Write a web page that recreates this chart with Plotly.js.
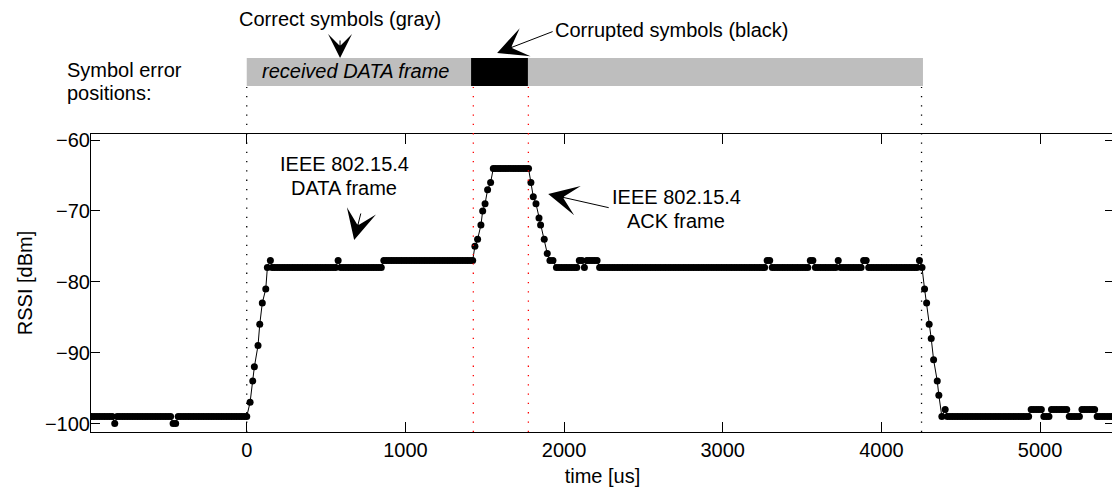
<!DOCTYPE html>
<html>
<head>
<meta charset="utf-8">
<script src="https://cdn.plot.ly/plotly-3.0.1.min.js"></script>
<style>
html,body{margin:0;padding:0;overflow:hidden;background:#fff;}
#chart{width:1114px;height:487px;}
</style>
</head>
<body>
<div id="chart"></div>
<script>
// ---------------- DATA (time in us, RSSI in dBm) ----------------
// idle channel before the DATA frame
const tNoise = [-976,-960,-944,-928,-912,-896,-880,-864,-848,-832,
  -816,-800,-784,-768,-752,-736,-720,-704,-688,-672,
  -656,-640,-624,-608,-592,-576,-560,-544,-528,-512,
  -496,-480,-464,-448,-432,-416,-400,-384,-368,-352,
  -336,-320,-304,-288,-272,-256,-240,-224,-208,-192,
  -176,-160,-144,-128,-112,-96,-80,-64,-48,-32,
  -16];
const rssiNoise = [-99,-99,-99,-99,-99,-99,-99,-99,-99,-100,
  -99,-99,-99,-99,-99,-99,-99,-99,-99,-99,
  -99,-99,-99,-99,-99,-99,-99,-99,-99,-99,
  -99,-99,-100,-100,-99,-99,-99,-99,-99,-99,
  -99,-99,-99,-99,-99,-99,-99,-99,-99,-99,
  -99,-99,-99,-99,-99,-99,-99,-99,-99,-99,
  -99];
// DATA frame rising edge
const tDataRise = [0,21,38,48,71,82,98,120,130,149];
const rssiDataRise = [-99,-97,-94,-92,-89,-86,-83,-81,-78,-77];
// DATA frame body
const tData = [160,176,192,208,224,240,256,272,288,304,
  320,336,352,368,384,400,416,432,448,464,
  480,496,512,528,544,560,
  576,
  592,608,624,640,656,672,688,704,720,736,
  752,768,784,800,816,832,848,
  864,880,896,912,928,944,960,976,992,1008,
  1024,1040,1056,1072,1088,1104,1120,1136,1152,1168,
  1184,1200,1216,1232,1248,1264,1280,1296,1312,1328,
  1344,1360,1376,1392,1408,1424];
const rssiData = [-78,-78,-78,-78,-78,-78,-78,-78,-78,-78,
  -78,-78,-78,-78,-78,-78,-78,-78,-78,-78,
  -78,-78,-78,-78,-78,-78,
  -77,
  -78,-78,-78,-78,-78,-78,-78,-78,-78,-78,
  -78,-78,-78,-78,-78,-78,-78,
  -77,-77,-77,-77,-77,-77,-77,-77,-77,-77,
  -77,-77,-77,-77,-77,-77,-77,-77,-77,-77,
  -77,-77,-77,-77,-77,-77,-77,-77,-77,-77,
  -77,-77,-77,-77,-77,-77];
// overlapping ACK frame
const tAck = [1438,1455,1476,1487,1502,1518,1537,1554,
  1568,1584,1600,1616,1632,1648,1664,1680,1696,1712,1728,1744,1760,1776,
  1791,1806,1823,1842,1852,1875,1894,1911,1930];
const rssiAck = [-75,-74,-72,-70,-69,-67,-66,-64,
  -64,-64,-64,-64,-64,-64,-64,-64,-64,-64,-64,-64,-64,-64,
  -66,-68,-69,-71,-72,-74,-76,-77,-77];
// rest of DATA frame
const tRest = [1952,1968,1984,2000,2016,2032,2048,2064,2080,
  2096,2112,2128,2144,2160,2176,2192,2208,
  2224,2240,2256,2272,2288,2304,2320,2336,2352,2368,
  2384,2400,2416,2432,2448,2464,2480,2496,2512,2528,
  2544,2560,2576,2592,2608,2624,2640,2656,2672,2688,
  2704,2720,2736,2752,2768,2784,2800,2816,2832,2848,
  2864,2880,2896,2912,2928,2944,2960,2976,2992,3008,
  3024,3040,3056,3072,3088,3104,3120,3136,3152,3168,
  3184,3200,3216,3232,3248,3264,
  3280,3296,
  3312,3328,3344,3360,3376,3392,3408,3424,3440,3456,3472,3488,3504,3520,3536,
  3552,3568,
  3584,3600,3616,3632,3648,3664,3680,3696,3712,
  3728,
  3744,3760,3776,3792,3808,3824,3840,3856,3872,
  3888,3904,
  3920,3936,3952,3968,3984,4000,4016,4032,4048,4064,
  4080,4096,4112,4128,4144,4160,4176,4192,4208,4224,
  4240];
const rssiRest = [-78,-78,-78,-78,-78,-78,-78,-78,-78,
  -77,-77,-78,-77,-77,-77,-77,-77,
  -78,-78,-78,-78,-78,-78,-78,-78,-78,-78,
  -78,-78,-78,-78,-78,-78,-78,-78,-78,-78,
  -78,-78,-78,-78,-78,-78,-78,-78,-78,-78,
  -78,-78,-78,-78,-78,-78,-78,-78,-78,-78,
  -78,-78,-78,-78,-78,-78,-78,-78,-78,-78,
  -78,-78,-78,-78,-78,-78,-78,-78,-78,-78,
  -78,-78,-78,-78,-78,-78,
  -77,-77,
  -78,-78,-78,-78,-78,-78,-78,-78,-78,-78,-78,-78,-78,-78,-78,
  -77,-77,
  -78,-78,-78,-78,-78,-78,-78,-78,-78,
  -77,
  -78,-78,-78,-78,-78,-78,-78,-78,-78,
  -77,-77,
  -78,-78,-78,-78,-78,-78,-78,-78,-78,-78,
  -78,-78,-78,-78,-78,-78,-78,-78,-78,-78,
  -77];
// falling edge
const tFall = [4256,4272,4285,4301,4314,4329,4352,4362,4381,4402];
const rssiFall = [-78,-81,-83,-86,-88,-91,-94,-96,-99,-98];
// idle channel afterwards
const tTail = [4416,4432,4448,4464,4480,4496,4512,4528,4544,4560,
  4576,4592,4608,4624,4640,4656,4672,4688,4704,4720,
  4736,4752,4768,4784,4800,4816,4832,4848,4864,4880,
  4896,4912,4928,
  4944,4960,4976,4992,5008,
  5024,5040,5056,
  5072,5088,5104,5120,5136,5152,5168,
  5184,5200,5216,5232,5248,
  5264,5280,5296,5312,5328,5344,
  5360,5376,5392,5408,5424,5440,5456];
const rssiTail = [-99,-99,-99,-99,-99,-99,-99,-99,-99,-99,
  -99,-99,-99,-99,-99,-99,-99,-99,-99,-99,
  -99,-99,-99,-99,-99,-99,-99,-99,-99,-99,
  -99,-99,-99,
  -98,-98,-98,-98,-98,
  -99,-99,-99,
  -98,-98,-98,-98,-98,-98,-98,
  -99,-99,-99,-99,-99,
  -98,-98,-98,-98,-98,-98,
  -99,-99,-99,-99,-99,-99,-99];

const xTicks = [0,1000,2000,3000,4000,5000];
const yTicks = [-100,-90,-80,-70,-60];

const timeUs = [].concat(tNoise,tDataRise,tData,tAck,tRest,tFall,tTail);
const rssiDbm = [].concat(rssiNoise,rssiDataRise,rssiData,rssiAck,rssiRest,rssiFall,rssiTail);

// ---------------- LAYOUT ----------------
const W = 1114, H = 487, ML = 91, MT = 134, MB = 55, MR = 0;
const plotBottom = H - MB, plotH = H - MT - MB;
const py = p => (plotBottom - p) / plotH;   // pixel y -> paper y
const FONT = 'Liberation Sans, Arial, Helvetica, sans-serif';
const fs = 20;

const trace = {
  x: timeUs, y: rssiDbm, type: 'scatter', mode: 'lines+markers',
  line: {color: '#000', width: 1},
  marker: {color: '#000', size: 7},
  hoverinfo: 'skip', showlegend: false
};

const dotted = (x, color) => ({
  type: 'line', xref: 'x', yref: 'paper', x0: x, x1: x, y0: 0, y1: py(87),
  line: {color: color, width: 1.3, dash: '1.3px,8px'}, layer: 'above'
});

const shapes = [
  {type: 'rect', xref: 'x', yref: 'paper', x0: 0, x1: 4262, y0: py(86), y1: py(58),
   fillcolor: '#bebebe', line: {width: 0}},
  {type: 'rect', xref: 'x', yref: 'paper', x0: 1414, x1: 1772, y0: py(86), y1: py(58),
   fillcolor: '#000', line: {width: 0}},
  dotted(0, '#000'), dotted(4253, '#000'),
  dotted(1428, '#ff0000'), dotted(1775, '#ff0000')
];

const txt = (text, x, y, xanchor, xref) => ({
  text: text, x: x, y: py(y), xref: xref || 'x', yref: 'paper',
  xanchor: xanchor || 'center', yanchor: 'middle', showarrow: false,
  font: {family: FONT, size: fs, color: '#000'}
});
const arrow = (x, y, ax, ay, size) => ({
  text: '', x: x, y: py(y), xref: 'x', yref: 'paper', showarrow: true,
  ax: ax, ay: ay, arrowhead: 3, arrowsize: size, arrowwidth: 1, arrowcolor: '#000', standoff: 0
});

const annotations = [
  txt('Symbol error', (65 - ML) / (W - ML - MR), 70, 'left', 'paper'),
  txt('positions:', (65 - ML) / (W - ML - MR), 93, 'left', 'paper'),
  txt('<i>received DATA frame</i>', 84, 71, 'left'),
  txt('Correct symbols (gray)', 588, 19),
  arrow(588, 58, 0, -19, 4),
  txt('Corrupted symbols (black)', 1931, 30, 'left'),
  arrow(1578, 53, 57, -22, 5),
  txt('IEEE 802.15.4', 613, 164),
  txt('DATA frame', 613, 188),
  arrow(677, 240, 7, -28, 5),
  txt('IEEE 802.15.4', 2706, 197),
  txt('ACK frame', 2706, 221),
  arrow(1900, 194, 62, 14, 5)
];

const layout = {
  width: W, height: H,
  margin: {l: ML, r: MR, t: MT, b: MB, pad: 0},
  paper_bgcolor: '#fff', plot_bgcolor: '#fff',
  font: {family: FONT, size: fs, color: '#000'},
  showlegend: false,
  xaxis: {
    range: [-981.6, 5466], tickvals: xTicks, ticks: 'inside', ticklen: 10, tickwidth: 1,
    tickcolor: '#000', showline: true, linecolor: '#000', linewidth: 1, mirror: 'ticks',
    showgrid: false, zeroline: false, tickfont: {family: FONT, size: fs, color: '#000'},
    title: {text: 'time [us]', font: {family: FONT, size: fs, color: '#000'}, standoff: 14},
    automargin: false
  },
  yaxis: {
    range: [-101.19, -59.15], tickvals: yTicks, ticks: 'inside', ticklen: 9, tickwidth: 1,
    tickcolor: '#000', showline: true, linecolor: '#000', linewidth: 1, mirror: 'ticks',
    showgrid: false, zeroline: false, tickfont: {family: FONT, size: fs, color: '#000'},
    ticklabelstandoff: -4,
    title: {text: 'RSSI [dBm]', font: {family: FONT, size: fs, color: '#000'}, standoff: 6},
    automargin: false
  },
  shapes: shapes,
  annotations: annotations
};

Plotly.newPlot('chart', [trace], layout, {displayModeBar: false, staticPlot: true});
</script>
</body>
</html>
